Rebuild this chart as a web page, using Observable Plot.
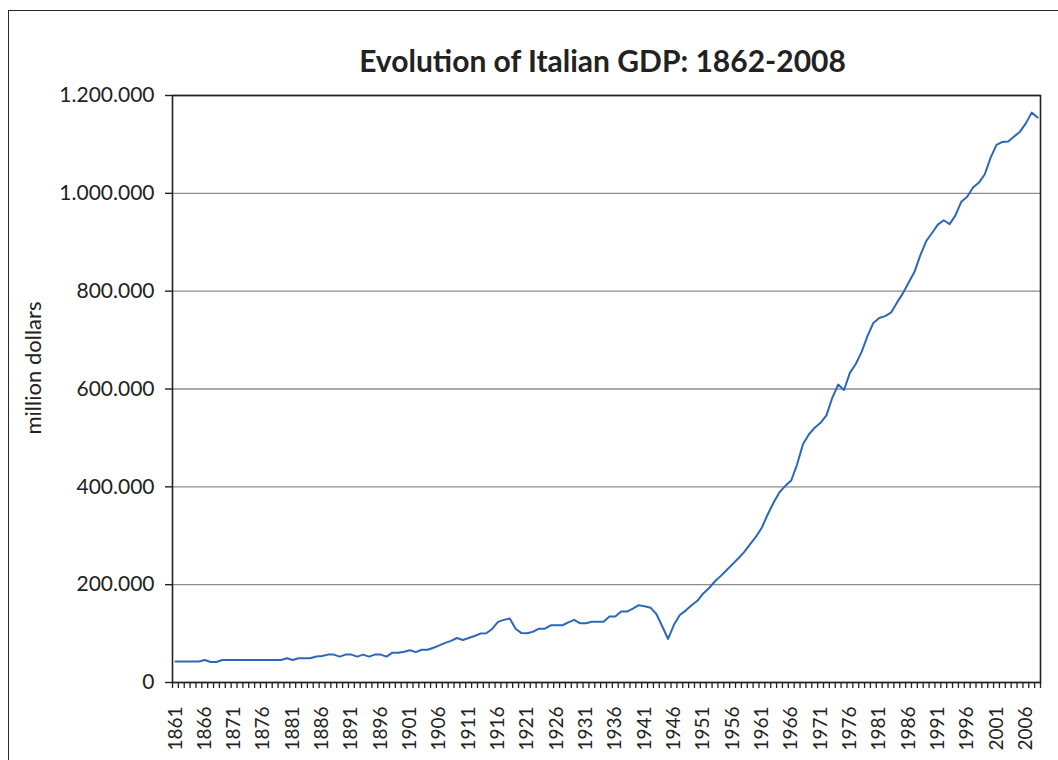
<!DOCTYPE html>
<html>
<head>
<meta charset="utf-8">
<script src="https://cdn.jsdelivr.net/npm/d3@7"></script>
<script src="https://cdn.jsdelivr.net/npm/@observablehq/plot@0.6"></script>
<style>
  html, body { margin: 0; padding: 0; background: #fff; overflow: hidden; width: 1058px; height: 760px; }
  #wrap { position: relative; width: 1058px; height: 760px; }
  #border { position: absolute; left: 8px; top: 10px; width: 1200px; height: 900px; border: 1.6px solid #2a2a2a; pointer-events: none; }
  #chart { position: absolute; left: 0; top: 0; }
</style>
</head>
<body>
<div id="wrap"><div id="border"></div><div id="chart"></div></div>
<script>
const titleText = "Evolution of Italian GDP: 1862-2008";
const yLabelText = "million dollars";

const years = [
  1861, 1862, 1863, 1864, 1865, 1866, 1867, 1868, 1869,
  1870, 1871, 1872, 1873, 1874, 1875, 1876, 1877, 1878, 1879,
  1880, 1881, 1882, 1883, 1884, 1885, 1886, 1887, 1888, 1889,
  1890, 1891, 1892, 1893, 1894, 1895, 1896, 1897, 1898, 1899,
  1900, 1901, 1902, 1903, 1904, 1905, 1906, 1907, 1908, 1909,
  1910, 1911, 1912, 1913, 1914, 1915, 1916, 1917, 1918, 1919,
  1920, 1921, 1922, 1923, 1924, 1925, 1926, 1927, 1928, 1929,
  1930, 1931, 1932, 1933, 1934, 1935, 1936, 1937, 1938, 1939,
  1940, 1941, 1942, 1943, 1944, 1945, 1946, 1947, 1948, 1949,
  1950, 1951, 1952, 1953, 1954, 1955, 1956, 1957, 1958, 1959,
  1960, 1961, 1962, 1963, 1964, 1965, 1966, 1967, 1968, 1969,
  1970, 1971, 1972, 1973, 1974, 1975, 1976, 1977, 1978, 1979,
  1980, 1981, 1982, 1983, 1984, 1985, 1986, 1987, 1988, 1989,
  1990, 1991, 1992, 1993, 1994, 1995, 1996, 1997, 1998, 1999,
  2000, 2001, 2002, 2003, 2004, 2005, 2006, 2007, 2008
];

const gdp = [
  43000, 43000, 43000, 43000, 43000, 46000, 42000, 42000, 46000,
  46000, 46000, 46000, 46000, 46000, 46000, 46000, 46000, 46000, 46000,
  49500, 46000, 49500, 49500, 49500, 53000, 54000, 57000, 57000, 53000,
  57000, 57000, 53000, 57000, 53000, 57000, 57000, 53000, 61000, 61000,
  63000, 66000, 62000, 67000, 67000, 71000, 76000, 81000, 85000, 91000,
  87000, 91000, 95000, 100000, 100600, 109500, 124000, 128000, 131000, 110000,
  101000, 100600, 104000, 110000, 110000, 117000, 117000, 117000, 123000, 128000,
  121000, 121000, 124000, 124000, 124000, 135000, 135000, 145000, 145000, 151000,
  158000, 156000, 153000, 140000, 115000, 89000, 118000, 138000, 147000, 158000,
  167000, 182000, 193000, 207000, 218000, 230000, 242000, 254000, 267000, 283000,
  298000, 317000, 344000, 368000, 389000, 402000, 413000, 446000, 487000, 507000,
  521000, 531000, 546000, 582000, 609000, 598000, 633000, 651000, 676000, 708000,
  735000, 745000, 749000, 756000, 776000, 795000, 817000, 839000, 873000, 902000,
  919000, 936000, 945000, 937000, 955000, 983000, 993000, 1012000, 1022000, 1039000,
  1073000, 1099000, 1105000, 1106000, 1116000, 1126000, 1143000, 1165000, 1155000
];

const labelYears = [1861, 1866, 1871, 1876, 1881, 1886, 1891, 1896, 1901, 1906, 1911, 1916, 1921, 1926, 1931, 1936, 1941, 1946, 1951, 1956, 1961, 1966, 1971, 1976, 1981, 1986, 1991, 1996, 2001, 2006];
const yTicks = [0, 200000, 400000, 600000, 800000, 1000000, 1200000];

const data = years.map((yr, i) => ({year: yr, value: gdp[i]}));
const bandEdges = years.map(y => y - 0.5).concat([years[years.length - 1] + 0.5]);

const fmt = d3.formatLocale({decimal: ",", thousands: ".", grouping: [3], currency: ["", ""]}).format(",d");

const chart = Plot.plot({
  width: 1058,
  height: 760,
  marginLeft: 172,
  marginRight: 18,
  marginTop: 95,
  marginBottom: 78,
  style: {fontFamily: "Lato, 'Open Sans', sans-serif", background: "transparent", color: "#222", overflow: "visible"},
  x: {type: "linear", domain: [years[0] - 0.5, years[years.length - 1] + 0.5]},
  y: {domain: [0, 1200000]},
  marks: [
    Plot.gridY(yTicks, {stroke: "#8c8c8c", strokeOpacity: 1, strokeWidth: 1.3}),
    Plot.axisY(yTicks, {tickSize: 7, tickPadding: 11, tickFormat: fmt, fontSize: 21, label: null, strokeWidth: 1.4}),
    Plot.axisX(bandEdges, {tickSize: 6, tickFormat: () => "", label: null, strokeWidth: 1.3}),
    Plot.axisX(labelYears, {tickSize: 0, tickRotate: -90, tickPadding: 24, fontSize: 19, label: null, tickFormat: d => String(d)}),
    Plot.line(data, {x: "year", y: "value", stroke: "#2c68b8", strokeWidth: 2}),
    Plot.frame({stroke: "#222", strokeWidth: 1.6}),
    Plot.text([titleText], {frameAnchor: "top", dx: -4, dy: -24, lineAnchor: "bottom", fontSize: 30, fontWeight: "bold", fill: "#222"}),
    Plot.text([yLabelText], {frameAnchor: "left", textAnchor: "middle", rotate: -90, dx: -139, dy: -21, fontSize: 22, fill: "#222"})
  ]
});
document.getElementById("chart").appendChild(chart);
</script>
</body>
</html>
